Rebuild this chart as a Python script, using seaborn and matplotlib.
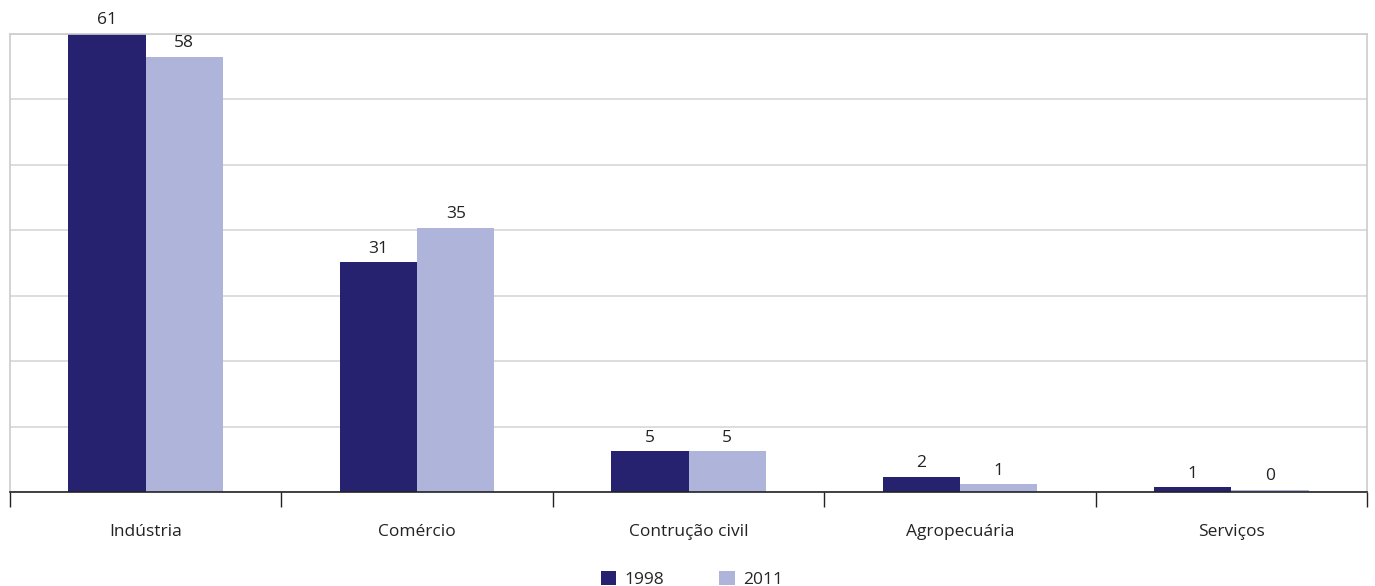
import numpy as np
import pandas as pd
import matplotlib
matplotlib.use("Agg")
import matplotlib.pyplot as plt
from matplotlib.patches import Patch
import seaborn as sns

categories = ["Indústria", "Comércio", "Contrução civil", "Agropecuária", "Serviços"]
years = ["1998", "2011"]
values_1998 = [61.0, 30.6, 5.4, 2.0, 0.6]
values_2011 = [58.0, 35.2, 5.4, 1.0, 0.3]
colors = ["#262270", "#AEB4DA"]

sns.set_theme(style="white")
plt.rcParams["font.family"] = ["Open Sans", "DejaVu Sans"]

df = pd.DataFrame({
    "setor": categories * 2,
    "ano": [years[0]] * len(categories) + [years[1]] * len(categories),
    "valor": values_1998 + values_2011,
})

fig = plt.figure(figsize=(13.75, 5.86), dpi=100)
ax = fig.add_axes([10 / 1375, 94 / 586, 1357 / 1375, 458 / 586])

sns.barplot(data=df, x="setor", y="valor", hue="ano", palette=colors,
            width=0.57, saturation=1, legend=False, ax=ax, linewidth=0)

for cont in ax.containers:
    ax.bar_label(cont, labels=[f"{v:.0f}" for v in cont.datavalues],
                 padding=4, fontsize=12.5, color="#222222")

ymax = 61.0
ax.set_ylim(0, ymax)
ax.set_xlim(-0.5, len(categories) - 0.5)
ax.set_yticks(np.linspace(0, ymax, 8))
ax.set_yticklabels([])
ax.tick_params(axis="y", length=0)
ax.yaxis.grid(True, color="#DADADA", linewidth=1.3)
ax.set_axisbelow(True)

ax.set_xticks(range(len(categories)))
ax.set_xticklabels(categories, fontsize=12.5, color="#222222")
ax.tick_params(axis="x", which="major", length=0, pad=23)
ax.set_xticks(np.arange(-0.5, len(categories), 1.0), minor=True)
ax.tick_params(axis="x", which="minor", length=11, width=1, color="#222222",
               direction="out", bottom=True)
ax.set_xlabel("")
ax.set_ylabel("")

for side in ["left", "top", "right"]:
    ax.spines[side].set_color("#CCCCCC")
    ax.spines[side].set_linewidth(1.2)
ax.spines["bottom"].set_color("#222222")
ax.spines["bottom"].set_linewidth(1.2)

handles = [Patch(facecolor=c, edgecolor="none") for c in colors]
fig.legend(handles, years, loc="lower center", bbox_to_anchor=(0.503, -0.03),
           ncol=2, frameon=False, fontsize=12.5, handlelength=0.9, handleheight=0.9,
           handletextpad=0.45, columnspacing=3.2)

fig.savefig("out.png", dpi=100, facecolor="white")
